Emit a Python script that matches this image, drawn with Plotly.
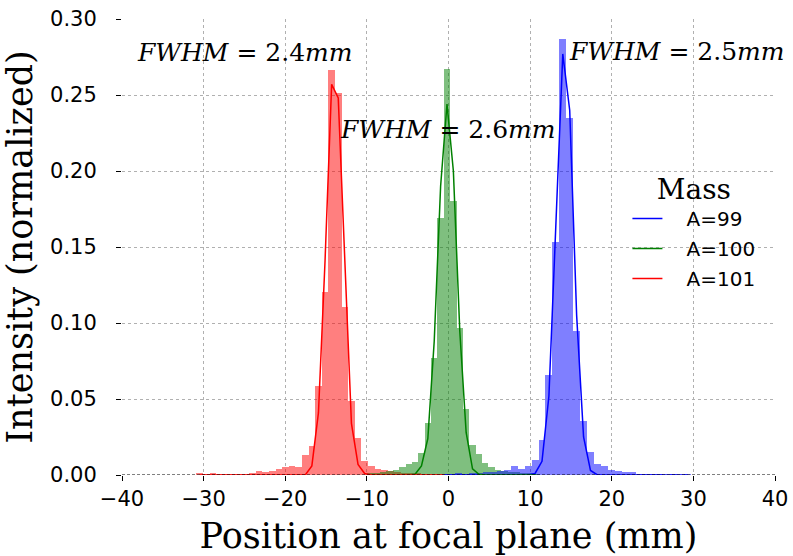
import plotly.graph_objects as go

# ---- data ----
# bin starts (mm) and bin widths (mm) of each histogram
red_start, red_width = -30.88, 0.808
green_start, green_width = -9.96, 0.782
blue_start, blue_width = -0.857, 0.849

red_hist = [0.0011, 0.0004, 0.0011, 0.0004, 0.0004, 0.0004, 0.0004, 0.0006, 0.0013, 0.0026,
            0.0020, 0.0026, 0.0037, 0.0050, 0.0057, 0.0050, 0.0132, 0.0190, 0.0586, 0.1206,
            0.2664, 0.2515, 0.1107, 0.0487, 0.0245, 0.0092, 0.0059, 0.0040, 0.0030, 0.0024,
            0.0020, 0.0015, 0.0013, 0.0011, 0.0008, 0.0008, 0.0006, 0.0006]
red_fit = [0, 0, 0, 0, 0, 0, 0, 0, 0, 0,
           0, 0, 0, 0, 0, 0, 0, 0.006, 0.041, 0.141,
           0.257, 0.248, 0.135, 0.034, 0.007, 0.001, 0, 0, 0, 0,
           0, 0, 0, 0, 0, 0, 0, 0]

green_hist = [0.0010, 0.0013, 0.0018, 0.0024, 0.0035, 0.0053, 0.0070, 0.0087, 0.0147, 0.0340,
              0.0768, 0.1689, 0.2669, 0.1803, 0.0965, 0.0434, 0.0197, 0.0135, 0.0080, 0.0053,
              0.0035, 0.0026, 0.0022, 0.0018, 0.0013, 0.0010, 0.0008]
green_fit = [0, 0, 0, 0, 0, 0, 0, 0.0005, 0.006, 0.024,
             0.088, 0.190, 0.244, 0.200, 0.095, 0.028, 0.004, 0.0005, 0, 0,
             0, 0, 0, 0, 0, 0, 0]

blue_hist = [0.0004, 0.0004, 0.0012, 0.0006, 0.0015, 0.0010, 0.0017, 0.0018, 0.0027, 0.0031,
             0.0057, 0.0042, 0.0057, 0.0099, 0.0230, 0.0658, 0.1535, 0.2867, 0.2348, 0.0948,
             0.0355, 0.0153, 0.0075, 0.0056, 0.0030, 0.0026, 0.0022, 0.0022, 0.0009, 0.0009,
             0.0009, 0.0009, 0.0, 0.0004, 0.0, 0.0009]
blue_fit = [0, 0, 0, 0, 0, 0, 0, 0, 0, 0,
            0, 0, 0, 0.001, 0.009, 0.052, 0.170, 0.277, 0.240, 0.105,
            0.025, 0.003, 0, 0, 0, 0, 0, 0, 0, 0,
            0, 0, 0, 0, 0, 0]

series = [
    # name, start, width, hist, fit, bar colour, line colour
    ("A=99", blue_start, blue_width, blue_hist, blue_fit, "rgba(0,0,255,0.5)", "#0000ff"),
    ("A=100", green_start, green_width, green_hist, green_fit, "rgba(0,128,0,0.5)", "#008000"),
    ("A=101", red_start, red_width, red_hist, red_fit, "rgba(255,0,0,0.5)", "#ff0000"),
]

annotations_text = ["FWHM", "FWHM", "FWHM"]
fwhm_values = ["2.4", "2.6", "2.5"]
fwhm_x = [-25.0, -0.1, 27.9]
fwhm_y = [0.2780, 0.2272, 0.2785]

x_ticks = [-40, -30, -20, -10, 0, 10, 20, 30, 40]
y_ticks = [0.0, 0.05, 0.10, 0.15, 0.20, 0.25, 0.30]

fig = go.Figure()

# bars first (drawn beneath the lines)
for name, start, width, hist, fit, bcol, lcol in series[::-1]:
    lefts = [start + i * width for i in range(len(hist))]
    fig.add_trace(go.Bar(x=lefts, y=hist, width=width, offset=0,
                         marker=dict(color=bcol, line=dict(width=0)),
                         showlegend=False, hoverinfo="skip"))

for name, start, width, hist, fit, bcol, lcol in series:
    centers = [start + (i + 0.5) * width for i in range(len(fit))]
    fig.add_trace(go.Scatter(x=centers, y=fit, mode="lines",
                             name="&nbsp;&nbsp;&nbsp;" + name, legendgroup=name,
                             line=dict(color=lcol, width=1.5)))

for t, v, x, y in zip(annotations_text, fwhm_values, fwhm_x, fwhm_y):
    fig.add_annotation(x=x, y=y, xref="x", yref="y", showarrow=False,
                       text=f"<i>{t}</i> = {v}<i>mm</i>",
                       font=dict(family="DejaVu Serif", size=25, color="black"))

# dashed baseline at zero
fig.add_shape(type="line", xref="paper", x0=0, x1=1, yref="y", y0=0, y1=0,
              line=dict(color="black", width=1, dash="3px,2px"))

fig.update_layout(
    width=793, height=556,
    margin=dict(l=122, r=18, t=19, b=81),
    paper_bgcolor="white", plot_bgcolor="white",
    barmode="overlay", bargap=0,
    legend=dict(
        title=dict(text="Mass", side="top center",
                   font=dict(family="DejaVu Serif", size=28, color="black")),
        font=dict(family="DejaVu Sans", size=20, color="black"),
        x=0.774, y=0.685, xanchor="left", yanchor="top",
        bgcolor="rgba(0,0,0,0)", borderwidth=0,
        itemwidth=30, tracegroupgap=1,
    ),
)

fig.update_xaxes(
    range=[-40, 40], tickvals=x_ticks, ticktext=[("\u2212" + str(-v)) if v < 0 else str(v) for v in x_ticks],
    showgrid=True, gridcolor="#b0b0b0", griddash="dot", gridwidth=1,
    zeroline=False, showline=False, automargin=False,
    ticks="outside", ticklen=5, tickcolor="black", tickwidth=1,
    tickfont=dict(family="DejaVu Sans", size=21, color="black"),
    title=dict(text="Position at focal plane (mm)", standoff=14,
               font=dict(family="DejaVu Serif", size=35, color="black")),
)
fig.update_yaxes(
    range=[0, 0.30], tickvals=y_ticks, ticktext=[f"{v:.2f}" for v in y_ticks],
    showgrid=True, gridcolor="#b0b0b0", griddash="dot", gridwidth=1,
    zeroline=False, showline=False, automargin=False,
    ticks="outside", ticklen=5, tickcolor="black", tickwidth=1,
    ticklabelstandoff=15,
    tickfont=dict(family="DejaVu Sans", size=21, color="black"),
    title=dict(text="Intensity (normalized)", standoff=6,
               font=dict(family="DejaVu Serif", size=35, color="black")),
)

fig.write_html("out.html")
